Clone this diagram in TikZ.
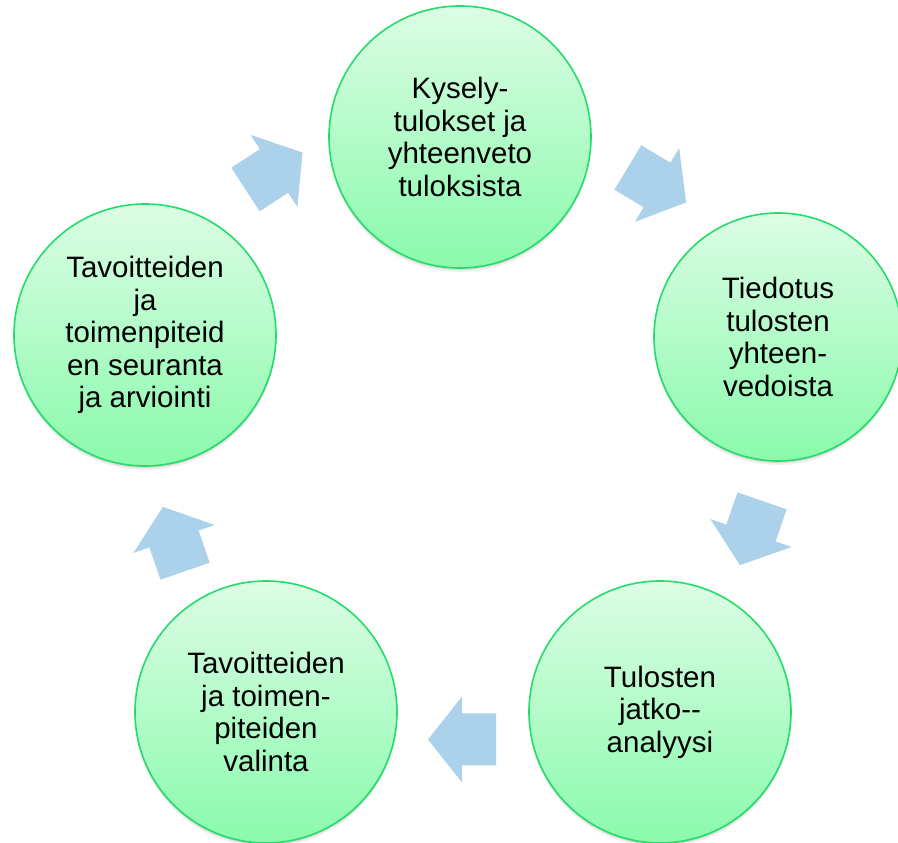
\documentclass[tikz,border=0pt]{standalone}
\usepackage{fontspec}
\setmainfont{Liberation Sans}
\usetikzlibrary{shadows}
\definecolor{ctop}{RGB}{220,253,229}
\definecolor{cbot}{RGB}{138,250,172}
\definecolor{cborder}{RGB}{36,220,106}
\definecolor{carrow}{RGB}{171,210,234}
\begin{document}
\begin{tikzpicture}[x=1pt,y=1pt,
  stage/.style={circle, draw=cborder, line width=1.6pt, top color=ctop, bottom color=cbot,
    minimum size=262pt, inner sep=0pt, align=center,
    font=\fontsize{29.5}{32.5}\selectfont, text=black,
    drop shadow={shadow xshift=0pt, shadow yshift=-4pt, opacity=.06, fill=black},
    drop shadow={shadow xshift=0pt, shadow yshift=-2pt, opacity=.10, fill=black}},
  barrow/.pic={\fill[carrow] (-34,-26) -- (0,-26) -- (0,-43) -- (34,0) -- (0,43) -- (0,26) -- (-34,26) -- cycle;}
  ]
\useasboundingbox (0,0) rectangle (898,843);
\node[stage] (T)  at (460,706) {Kysely-\\tulokset ja\\yhteenveto\\tuloksista};
\node[stage, minimum size=248pt] (R)  at (778,506) {Tiedotus\\tulosten\\yhteen-\\vedoista};
\node[stage] (BR) at (660,131) {Tulosten\\jatko-{}-\\analyysi};
\node[stage] (BL) at (266,131) {Tavoitteiden\\ja toimen-\\piteiden\\valinta};
\node[stage] (L)  at (145,508) {Tavoitteiden\\ja\\toimenpiteid\\en seuranta\\ja arviointi};
\coordinate (a1) at (274,672);
\coordinate (a2) at (657,658);
\coordinate (a3) at (751,310);
\coordinate (a4) at (462,103.5);
\coordinate (a5) at (174,304);
\pic[rotate=33]   at (a1) {barrow};
\pic[rotate=-31]  at (a2) {barrow};
\pic[rotate=-109] at (a3) {barrow};
\pic[rotate=180]  at (a4) {barrow};
\pic[rotate=109]  at (a5) {barrow};
\end{tikzpicture}
\end{document}
